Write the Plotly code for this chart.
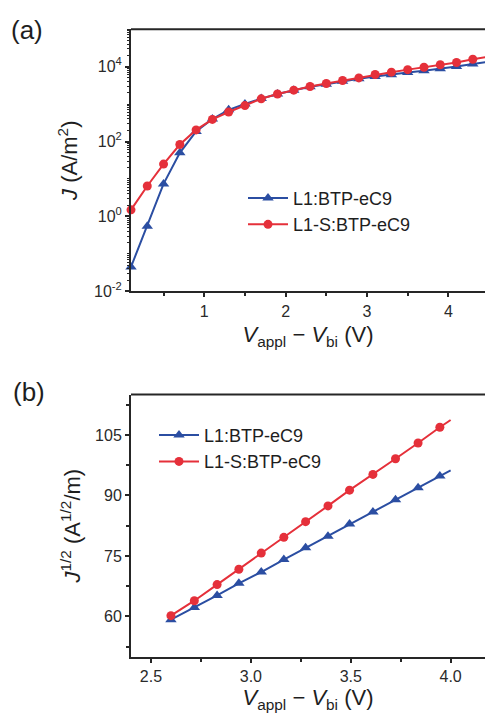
import plotly.graph_objects as go

# ---------------- data ----------------
# (a) J-V curves on log scale
v_a = [0.1, 0.3, 0.5, 0.7, 0.9, 1.1, 1.3, 1.5, 1.7, 1.9, 2.1, 2.3, 2.5,
       2.7, 2.9, 3.1, 3.3, 3.5, 3.7, 3.9, 4.1, 4.3, 4.5]
j_l1 = [0.045, 0.55, 7.4, 50, 185, 400, 700, 1000, 1400, 1850, 2350, 2900, 3400,
        4050, 4750, 5450, 6050, 6950, 7800, 8700, 10000, 11800, 13600]
j_l1s = [1.5, 6.5, 25, 83, 204, 390, 615, 910, 1380, 1850, 2350, 2950, 3550,
         4250, 5000, 6150, 7100, 8300, 9600, 11200, 12900, 15700, 18500]

# (b) J^1/2 vs V in the high-field region (symbols on every sampled point,
# the curve continues to the last voltage 4.0 V)
v_b = [2.60, 2.717, 2.831, 2.94, 3.052, 3.165, 3.274, 3.386, 3.494, 3.611,
       3.724, 3.837, 3.946, 4.0]
sj_l1 = [59.2, 62.2, 65.2, 68.2, 71.0, 74.1, 77.0, 79.9, 82.9, 85.9, 88.9,
         91.9, 94.8, 96.2]
sj_l1s = [60.2, 63.9, 67.9, 71.7, 75.7, 79.6, 83.5, 87.4, 91.3, 95.2, 99.1,
          103.0, 106.9, 108.7]

series_names = ["L1:BTP-eC9", "L1-S:BTP-eC9"]

# log-axis ticks
ya_major = [1e-2, 1e0, 1e2, 1e4]
ya_major_text = ["10<sup>-2</sup>", "10<sup>0</sup>", "10<sup>2</sup>", "10<sup>4</sup>"]
ya_minor = [m * 10 ** e for e in range(-2, 5) for m in range(2, 10)] + [1e-1, 1e1, 1e3, 1e5]

BLUE = "#2b4ea2"
RED = "#e5303a"
AX = "#262626"
TXT = "#1e1e1e"
FONT = "Arial, Liberation Sans, sans-serif"

W, H = 485, 728


def px_x(x):
    return x / W


def px_y(y):
    return 1 - y / H


fig = go.Figure()

fig.add_trace(go.Scatter(x=v_a, y=j_l1, name=series_names[0], mode="lines+markers",
                         line=dict(color=BLUE, width=2),
                         marker=dict(symbol="triangle-up", size=10, color=BLUE),
                         xaxis="x", yaxis="y", legend="legend", cliponaxis=False))
fig.add_trace(go.Scatter(x=v_a, y=j_l1s, name=series_names[1], mode="lines+markers",
                         line=dict(color=RED, width=2),
                         marker=dict(symbol="circle", size=9, color=RED),
                         xaxis="x", yaxis="y", legend="legend", cliponaxis=False))

# (b): symbols + line, then the bare line segment to the final voltage
for yy, col, sym, sz, nm in [(sj_l1, BLUE, "triangle-up", 10, series_names[0]),
                             (sj_l1s, RED, "circle", 9, series_names[1])]:
    fig.add_trace(go.Scatter(x=v_b[:-1], y=yy[:-1], name=nm, mode="lines+markers",
                             line=dict(color=col, width=2),
                             marker=dict(symbol=sym, size=sz, color=col),
                             xaxis="x2", yaxis="y2", legend="legend2", cliponaxis=False))
    fig.add_trace(go.Scatter(x=v_b[-2:], y=yy[-2:], mode="lines", showlegend=False,
                             line=dict(color=col, width=2), hoverinfo="skip",
                             xaxis="x2", yaxis="y2"))

x_dom = [px_x(131), 1.0]
ya_dom = [px_y(295), px_y(29.5)]
yb_dom = [px_y(665), px_y(399.5)]

xtitle = "<i>V</i><sub>appl</sub> − <i>V</i><sub>bi</sub> (V)"
axis_common = dict(showline=True, linecolor=AX, linewidth=2, ticks="outside",
                   ticklen=4, tickwidth=1.5, tickcolor=AX, showgrid=False,
                   zeroline=False, tickfont=dict(size=16, color="#2a2a2a", family=FONT))

fig.update_layout(
    width=W, height=H,
    margin=dict(l=0, r=0, t=0, b=0),
    paper_bgcolor="white", plot_bgcolor="white",
    font=dict(family=FONT, color=TXT),
    xaxis=dict(domain=x_dom, anchor="y", range=[0.1, 4.45],
               tickvals=[1, 2, 3, 4],
               minor=dict(tickvals=[0.5, 1.5, 2.5, 3.5], ticks="outside", ticklen=3,
                          tickcolor=AX, tickwidth=1.5),
               title=dict(text=xtitle, font=dict(size=22, color=TXT), standoff=8),
               **axis_common),
    yaxis=dict(domain=ya_dom, anchor="x", type="log", range=[-2, 5],
               tickvals=ya_major, ticktext=ya_major_text,
               minor=dict(tickvals=ya_minor, ticks="outside", ticklen=2.5,
                          tickcolor=AX, tickwidth=1),
               title=dict(text="<i>J</i> (A/m<sup>2</sup>)", font=dict(size=22, color=TXT),
                          standoff=10),
               **axis_common),
    xaxis2=dict(domain=x_dom, anchor="y2", range=[2.4, 4.172],
                tickvals=[2.5, 3.0, 3.5, 4.0], tickformat=".1f",
                minor=dict(tickvals=[2.75, 3.25, 3.75], ticks="outside", ticklen=3,
                           tickcolor=AX, tickwidth=1.5),
                title=dict(text=xtitle, font=dict(size=22, color=TXT), standoff=6),
                **axis_common),
    yaxis2=dict(domain=yb_dom, anchor="x2", range=[50, 115],
                tickvals=[60, 75, 90, 105],
                minor=dict(tickvals=[52.5, 67.5, 82.5, 97.5, 112.5], ticks="outside",
                           ticklen=3, tickcolor=AX, tickwidth=1.5),
                title=dict(text="<i>J</i><sup>1/2</sup> (A<sup>1/2</sup>/m)",
                           font=dict(size=22, color=TXT), standoff=8),
                **axis_common),
    legend=dict(x=px_x(243), y=px_y(182), xanchor="left", yanchor="top",
                bgcolor="rgba(0,0,0,0)", font=dict(size=18, color=TXT),
                tracegroupgap=0, itemwidth=40),
    legend2=dict(x=px_x(154), y=px_y(422), xanchor="left", yanchor="top",
                 bgcolor="rgba(0,0,0,0)", font=dict(size=18, color=TXT),
                 tracegroupgap=0, itemwidth=40),
    shapes=[
        dict(type="line", xref="x domain", yref="y domain", x0=0, x1=1, y0=1, y1=1,
             line=dict(color=AX, width=2)),
        dict(type="line", xref="x2 domain", yref="y2 domain", x0=0, x1=1, y0=1, y1=1,
             line=dict(color=AX, width=2)),
    ],
    annotations=[
        dict(text="(a)", x=px_x(9), y=px_y(30), xref="paper", yref="paper",
             xanchor="left", yanchor="middle", showarrow=False,
             font=dict(size=26, color=TXT)),
        dict(text="(b)", x=px_x(11), y=px_y(397), xref="paper", yref="paper",
             xanchor="left", yanchor="middle", showarrow=False,
             font=dict(size=26, color=TXT)),
    ],
)

fig.write_html("out.html")
